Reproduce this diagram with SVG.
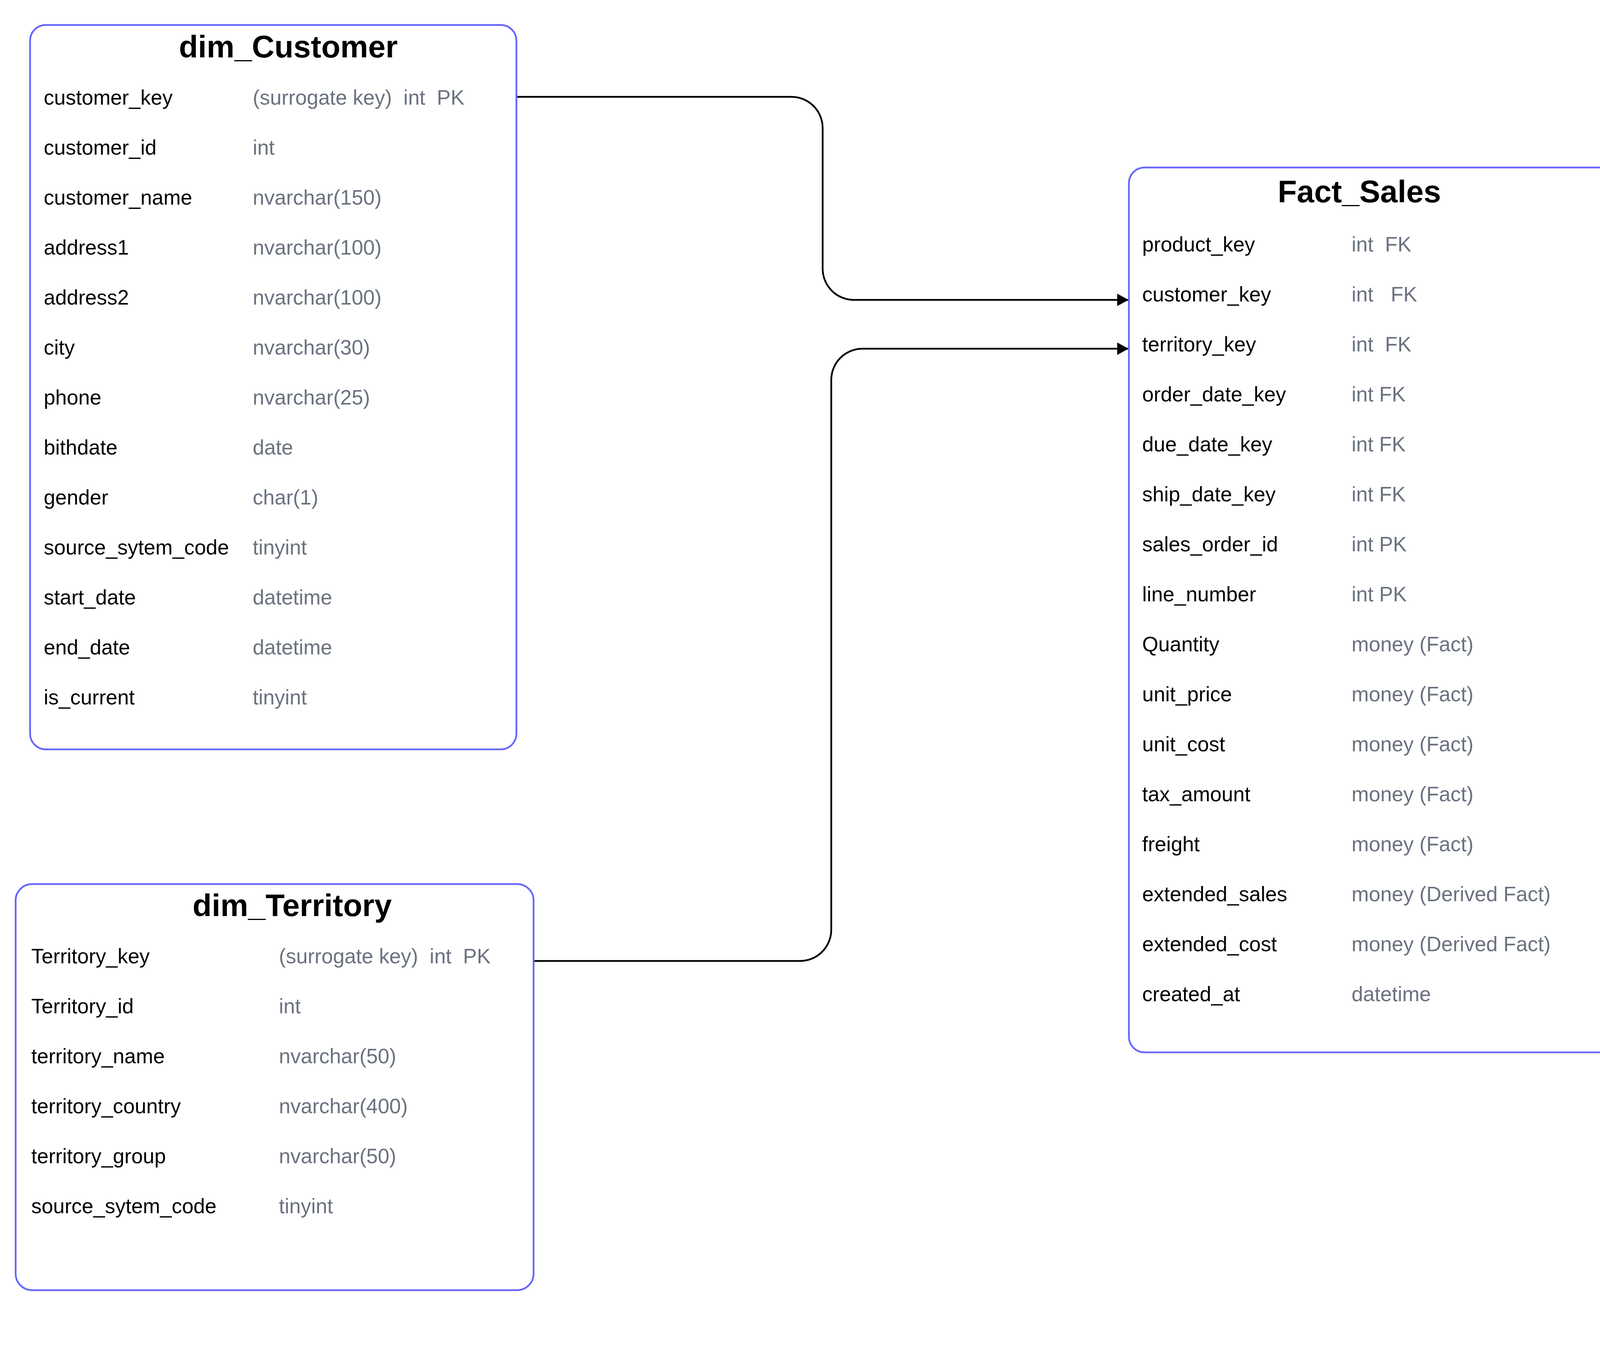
<svg xmlns="http://www.w3.org/2000/svg" width="7079" height="3447" viewBox="0 0 7079 3447">
<style>
.box{fill:#ffffff;stroke:#6666ff;stroke-width:4.5}
.title{font-family:"Liberation Sans",Arial,sans-serif;font-weight:bold;font-size:80px;fill:#000;text-anchor:middle}
.n{font-family:"Liberation Sans",Arial,sans-serif;font-size:53px;fill:#000;white-space:pre}
.ty{font-family:"Liberation Sans",Arial,sans-serif;font-size:53px;fill:#6b7280;white-space:pre}
.c{fill:none;stroke:#000;stroke-width:4.5}
</style>
<defs>
<marker id="arr" markerUnits="userSpaceOnUse" markerWidth="32" markerHeight="34" refX="29" refY="17" orient="auto">
<path d="M0,1 L29,17 L0,33 Z" fill="#000"/>
</marker>
</defs>
<rect width="7079" height="3447" fill="#ffffff"/>

<g id="connectors">
<path class="c" marker-end="url(#arr)" d="M1322,248 H2026 A80,80 0 0 1 2106,328 V688 A80,80 0 0 0 2186,768 H2889"/>
<path class="c" marker-end="url(#arr)" d="M1366,2461 H2048 A80,80 0 0 0 2128,2381 V973 A80,80 0 0 1 2208,893 H2889"/>
<path class="c" marker-end="url(#arr)" d="M5687,273 H4988 A78,78 0 0 0 4910,351 V551 A78,78 0 0 1 4832,629 H4137"/>
<path class="c" marker-end="url(#arr)" d="M5678,2470 H4988 A80,80 0 0 1 4908,2390 V1081 A82,82 0 0 0 4826,999 H4137"/>
<path class="c" marker-end="url(#arr)" d="M4908,1185 H4557 A34,34 0 0 1 4523,1151 A34,34 0 0 0 4489,1117 H4137"/>
<path class="c" marker-end="url(#arr)" d="M4908,1299 H4552 A28.5,28.5 0 0 1 4523.5,1270.5 A28.5,28.5 0 0 0 4495,1242 H4137"/>
</g>

<g id="dim_Customer">
<rect class="box" x="77" y="64" width="1245" height="1855" rx="40"/>
<text class="title" x="738" y="147">dim_Customer</text>
<text class="n" x="112" y="268">customer_key</text><text class="ty" x="647" y="268">(surrogate key)  int  PK</text>
<text class="n" x="112" y="396">customer_id</text><text class="ty" x="647" y="396">int</text>
<text class="n" x="112" y="524">customer_name</text><text class="ty" x="647" y="524">nvarchar(150)</text>
<text class="n" x="112" y="652">address1</text><text class="ty" x="647" y="652">nvarchar(100)</text>
<text class="n" x="112" y="780">address2</text><text class="ty" x="647" y="780">nvarchar(100)</text>
<text class="n" x="112" y="908">city</text><text class="ty" x="647" y="908">nvarchar(30)</text>
<text class="n" x="112" y="1036">phone</text><text class="ty" x="647" y="1036">nvarchar(25)</text>
<text class="n" x="112" y="1164">bithdate</text><text class="ty" x="647" y="1164">date</text>
<text class="n" x="112" y="1292">gender</text><text class="ty" x="647" y="1292">char(1)</text>
<text class="n" x="112" y="1420">source_sytem_code</text><text class="ty" x="647" y="1420">tinyint</text>
<text class="n" x="112" y="1548">start_date</text><text class="ty" x="647" y="1548">datetime</text>
<text class="n" x="112" y="1676">end_date</text><text class="ty" x="647" y="1676">datetime</text>
<text class="n" x="112" y="1804">is_current</text><text class="ty" x="647" y="1804">tinyint</text>
</g>

<g id="Fact_Sales">
<rect class="box" x="2890" y="429" width="1246" height="2266" rx="40"/>
<text class="title" x="3480" y="518">Fact_Sales</text>
<text class="n" x="2924" y="644">product_key</text><text class="ty" x="3460" y="644">int  FK</text>
<text class="n" x="2924" y="772">customer_key</text><text class="ty" x="3460" y="772">int   FK</text>
<text class="n" x="2924" y="900">territory_key</text><text class="ty" x="3460" y="900">int  FK</text>
<text class="n" x="2924" y="1028">order_date_key</text><text class="ty" x="3460" y="1028">int FK</text>
<text class="n" x="2924" y="1156">due_date_key</text><text class="ty" x="3460" y="1156">int FK</text>
<text class="n" x="2924" y="1284">ship_date_key</text><text class="ty" x="3460" y="1284">int FK</text>
<text class="n" x="2924" y="1412">sales_order_id</text><text class="ty" x="3460" y="1412">int PK</text>
<text class="n" x="2924" y="1540">line_number</text><text class="ty" x="3460" y="1540">int PK</text>
<text class="n" x="2924" y="1668">Quantity</text><text class="ty" x="3460" y="1668">money (Fact)</text>
<text class="n" x="2924" y="1796">unit_price</text><text class="ty" x="3460" y="1796">money (Fact)</text>
<text class="n" x="2924" y="1924">unit_cost</text><text class="ty" x="3460" y="1924">money (Fact)</text>
<text class="n" x="2924" y="2052">tax_amount</text><text class="ty" x="3460" y="2052">money (Fact)</text>
<text class="n" x="2924" y="2180">freight</text><text class="ty" x="3460" y="2180">money (Fact)</text>
<text class="n" x="2924" y="2308">extended_sales</text><text class="ty" x="3460" y="2308">money (Derived Fact)</text>
<text class="n" x="2924" y="2436">extended_cost</text><text class="ty" x="3460" y="2436">money (Derived Fact)</text>
<text class="n" x="2924" y="2564">created_at</text><text class="ty" x="3460" y="2564">datetime</text>
</g>

<g id="dim_product">
<rect class="box" x="5687" y="41" width="1276" height="2006" rx="40"/>
<text class="title" x="6303" y="153">dim_product</text>
<text class="n" x="5753" y="278">product_key</text><text class="ty" x="6299" y="278">(surrogate key)  int   PK</text>
<text class="n" x="5753" y="406">product_id</text><text class="ty" x="6302" y="406">int</text>
<text class="n" x="5753" y="534">product_name</text><text class="ty" x="6273" y="534">nvarchar(50)</text>
<text class="n" x="5753" y="662">product_describtion</text><text class="ty" x="6279" y="662">nvarchar(400)</text>
<text class="n" x="5753" y="790">product_subcategory</text><text class="ty" x="6281" y="790">nvarchar(50)</text>
<text class="n" x="5753" y="918">product_category</text><text class="ty" x="6269" y="918">nvarchar(50)</text>
<text class="n" x="5753" y="1046">color</text><text class="ty" x="6269" y="1046">nvarchar(15)</text>
<text class="n" x="5753" y="1174">model_name</text><text class="ty" x="6269" y="1174">nvarchar(50)</text>
<text class="n" x="5753" y="1302">rocorder_point</text><text class="ty" x="6274" y="1302">smallint</text>
<text class="n" x="5753" y="1430">standard_cost</text><text class="ty" x="6281" y="1430">money</text>
<text class="n" x="5753" y="1558">source_system_code</text><text class="ty" x="6301" y="1558">tinyint</text>
<text class="n" x="5753" y="1686">start_date</text><text class="ty" x="6272" y="1686">datetime</text>
<text class="n" x="5753" y="1814">end_date</text><text class="ty" x="6272" y="1814">datetime</text>
<text class="n" x="5753" y="1942">is_current</text><text class="ty" x="6268" y="1942">tinyint</text>
</g>

<g id="dim_Territory">
<rect class="box" x="40" y="2264" width="1326" height="1040" rx="42"/>
<text class="title" x="748" y="2346">dim_Territory</text>
<text class="n" x="80" y="2467">Territory_key</text><text class="ty" x="714" y="2467">(surrogate key)  int  PK</text>
<text class="n" x="80" y="2595">Territory_id</text><text class="ty" x="714" y="2595">int</text>
<text class="n" x="80" y="2723">territory_name</text><text class="ty" x="714" y="2723">nvarchar(50)</text>
<text class="n" x="80" y="2851">territory_country</text><text class="ty" x="714" y="2851">nvarchar(400)</text>
<text class="n" x="80" y="2979">territory_group</text><text class="ty" x="714" y="2979">nvarchar(50)</text>
<text class="n" x="80" y="3107">source_sytem_code</text><text class="ty" x="714" y="3107">tinyint</text>
</g>

<g id="dim_Date">
<rect class="box" x="5678" y="2282" width="1326" height="1042" rx="42"/>
<text class="title" x="6309" y="2366">dim_Date</text>
<text class="n" x="5718" y="2486">Date_key</text><text class="ty" x="6352" y="2486">(surrogate key)  int  PK</text>
<text class="n" x="5718" y="2614">Full_Date</text><text class="ty" x="6368" y="2614">Date</text>
<text class="n" x="5718" y="2742">Calender_Year</text><text class="ty" x="6352" y="2742">int</text>
<text class="n" x="5718" y="2870">Calender_Quarter</text><text class="ty" x="6352" y="2870">int</text>
<text class="n" x="5718" y="2998">Calender_month_num</text><text class="ty" x="6352" y="2998">int</text>
<text class="n" x="5718" y="3126">Calender_Month_Name</text><text class="ty" x="6351" y="3126">tnvarcar(15)</text>
</g>
</svg>
